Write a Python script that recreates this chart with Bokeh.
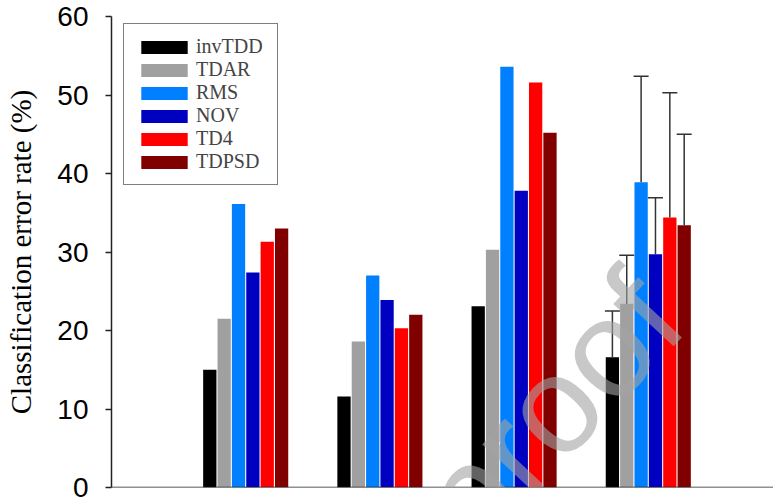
from bokeh.plotting import figure
from bokeh.models import Range1d, FixedTicker, Whisker, TeeHead, ColumnDataSource, Label, Legend, LegendItem
from bokeh.embed import file_html
from bokeh.resources import INLINE

# ---- data ----
groups = [1, 2, 3, 4]
series = ["invTDD", "TDAR", "RMS", "NOV", "TD4", "TDPSD"]
colors = ["#000000", "#a0a0a0", "#0080ff", "#0000c0", "#ff0000", "#800000"]
invTDD = [15.0, 11.6, 23.1, 16.6]
TDAR = [21.5, 18.6, 30.3, 23.4]
RMS = [36.1, 27.0, 53.6, 38.9]
NOV = [27.4, 23.9, 37.8, 29.7]
TD4 = [31.3, 20.3, 51.6, 34.4]
TDPSD = [33.0, 22.0, 45.2, 33.4]
values = [invTDD, TDAR, RMS, NOV, TD4, TDPSD]
# upward error (only for group 4)
err_group = 4
err_g4 = [5.9, 6.2, 13.5, 7.2, 15.9, 11.6]
y_ticks = [0, 10, 20, 30, 40, 50, 60]

slot = 0.107
bar_w = 0.099

p = figure(width=773, height=500, output_backend="svg", toolbar_location=None,
           x_range=Range1d(0, 4.933), y_range=Range1d(0, 60),
           min_border_left=111, min_border_right=0, min_border_top=16, min_border_bottom=13)
p.outline_line_color = None
p.grid.visible = False
p.background_fill_color = "white"
p.border_fill_color = "white"

items = []
for i, (name, col, vals) in enumerate(zip(series, colors, values)):
    off = (i - 2.5) * slot
    src = ColumnDataSource(dict(x=[g + off for g in groups], top=vals))
    r = p.vbar(x="x", top="top", width=bar_w, source=src, fill_color=col, line_color=None)
    items.append(LegendItem(label=name, renderers=[r]))

# error bars
ex, lo, up = [], [], []
for i, vals in enumerate(values):
    gi = groups.index(err_group)
    ex.append(err_group + (i - 2.5) * slot)
    lo.append(vals[gi])
    up.append(vals[gi] + err_g4[i])
esrc = ColumnDataSource(dict(base=ex, lower=lo, upper=up))
wh = Whisker(source=esrc, base="base", lower="lower", upper="upper", dimension="height",
             line_color="#333333", line_width=1.5,
             upper_head=TeeHead(size=15, line_color="#333333", line_width=1.5), lower_head=None)
p.add_layout(wh)

# axes
xa = p.xaxis[0]
xa.ticker = FixedTicker(ticks=groups)
xa.major_label_text_font_size = "0px"
xa.major_label_standoff = 0
xa.major_tick_out = 7
xa.major_tick_in = 0
xa.minor_tick_line_color = None
xa.axis_line_width = 1.5
xa.axis_line_color = "#222222"
xa.major_tick_line_color = "#222222"
xa.major_tick_line_width = 1.5
xa.fixed_location = 0

ya = p.yaxis[0]
ya.ticker = FixedTicker(ticks=y_ticks)
ya.major_label_text_font = "Liberation Sans"
ya.major_label_text_font_size = "28px"
ya.major_label_text_color = "black"
ya.major_label_standoff = 17
ya.major_tick_out = 6
ya.major_tick_in = 0
ya.minor_tick_line_color = None
ya.axis_line_width = 1.5
ya.axis_line_color = "#222222"
ya.major_tick_line_color = "#222222"
ya.major_tick_line_width = 1.5
ya.axis_label = "Classification error rate (%)"
ya.axis_label_text_font = "Liberation Serif"
ya.axis_label_text_font_size = "29px"
ya.axis_label_text_font_style = "normal"
ya.axis_label_text_color = "black"
ya.axis_label_standoff = 17

legend = Legend(items=items, location=(12, 302), padding=11, spacing=0,
                glyph_width=58, glyph_height=16, label_height=23, label_standoff=3, label_width=70,
                label_text_font="Liberation Serif", label_text_font_size="20px",
                border_line_color="black", border_line_width=1.2,
                background_fill_color="white", background_fill_alpha=1.0)
p.add_layout(legend, "center")

wm = Label(x=3.26, y=9.94, text="proof", angle=0.82, text_align="center", text_baseline="middle",
           text_font="Liberation Sans", text_font_size="138px", text_color="#a4a4a4", text_alpha=0.6)
p.add_layout(wm)

open("out.html", "w").write(file_html(p, INLINE))
